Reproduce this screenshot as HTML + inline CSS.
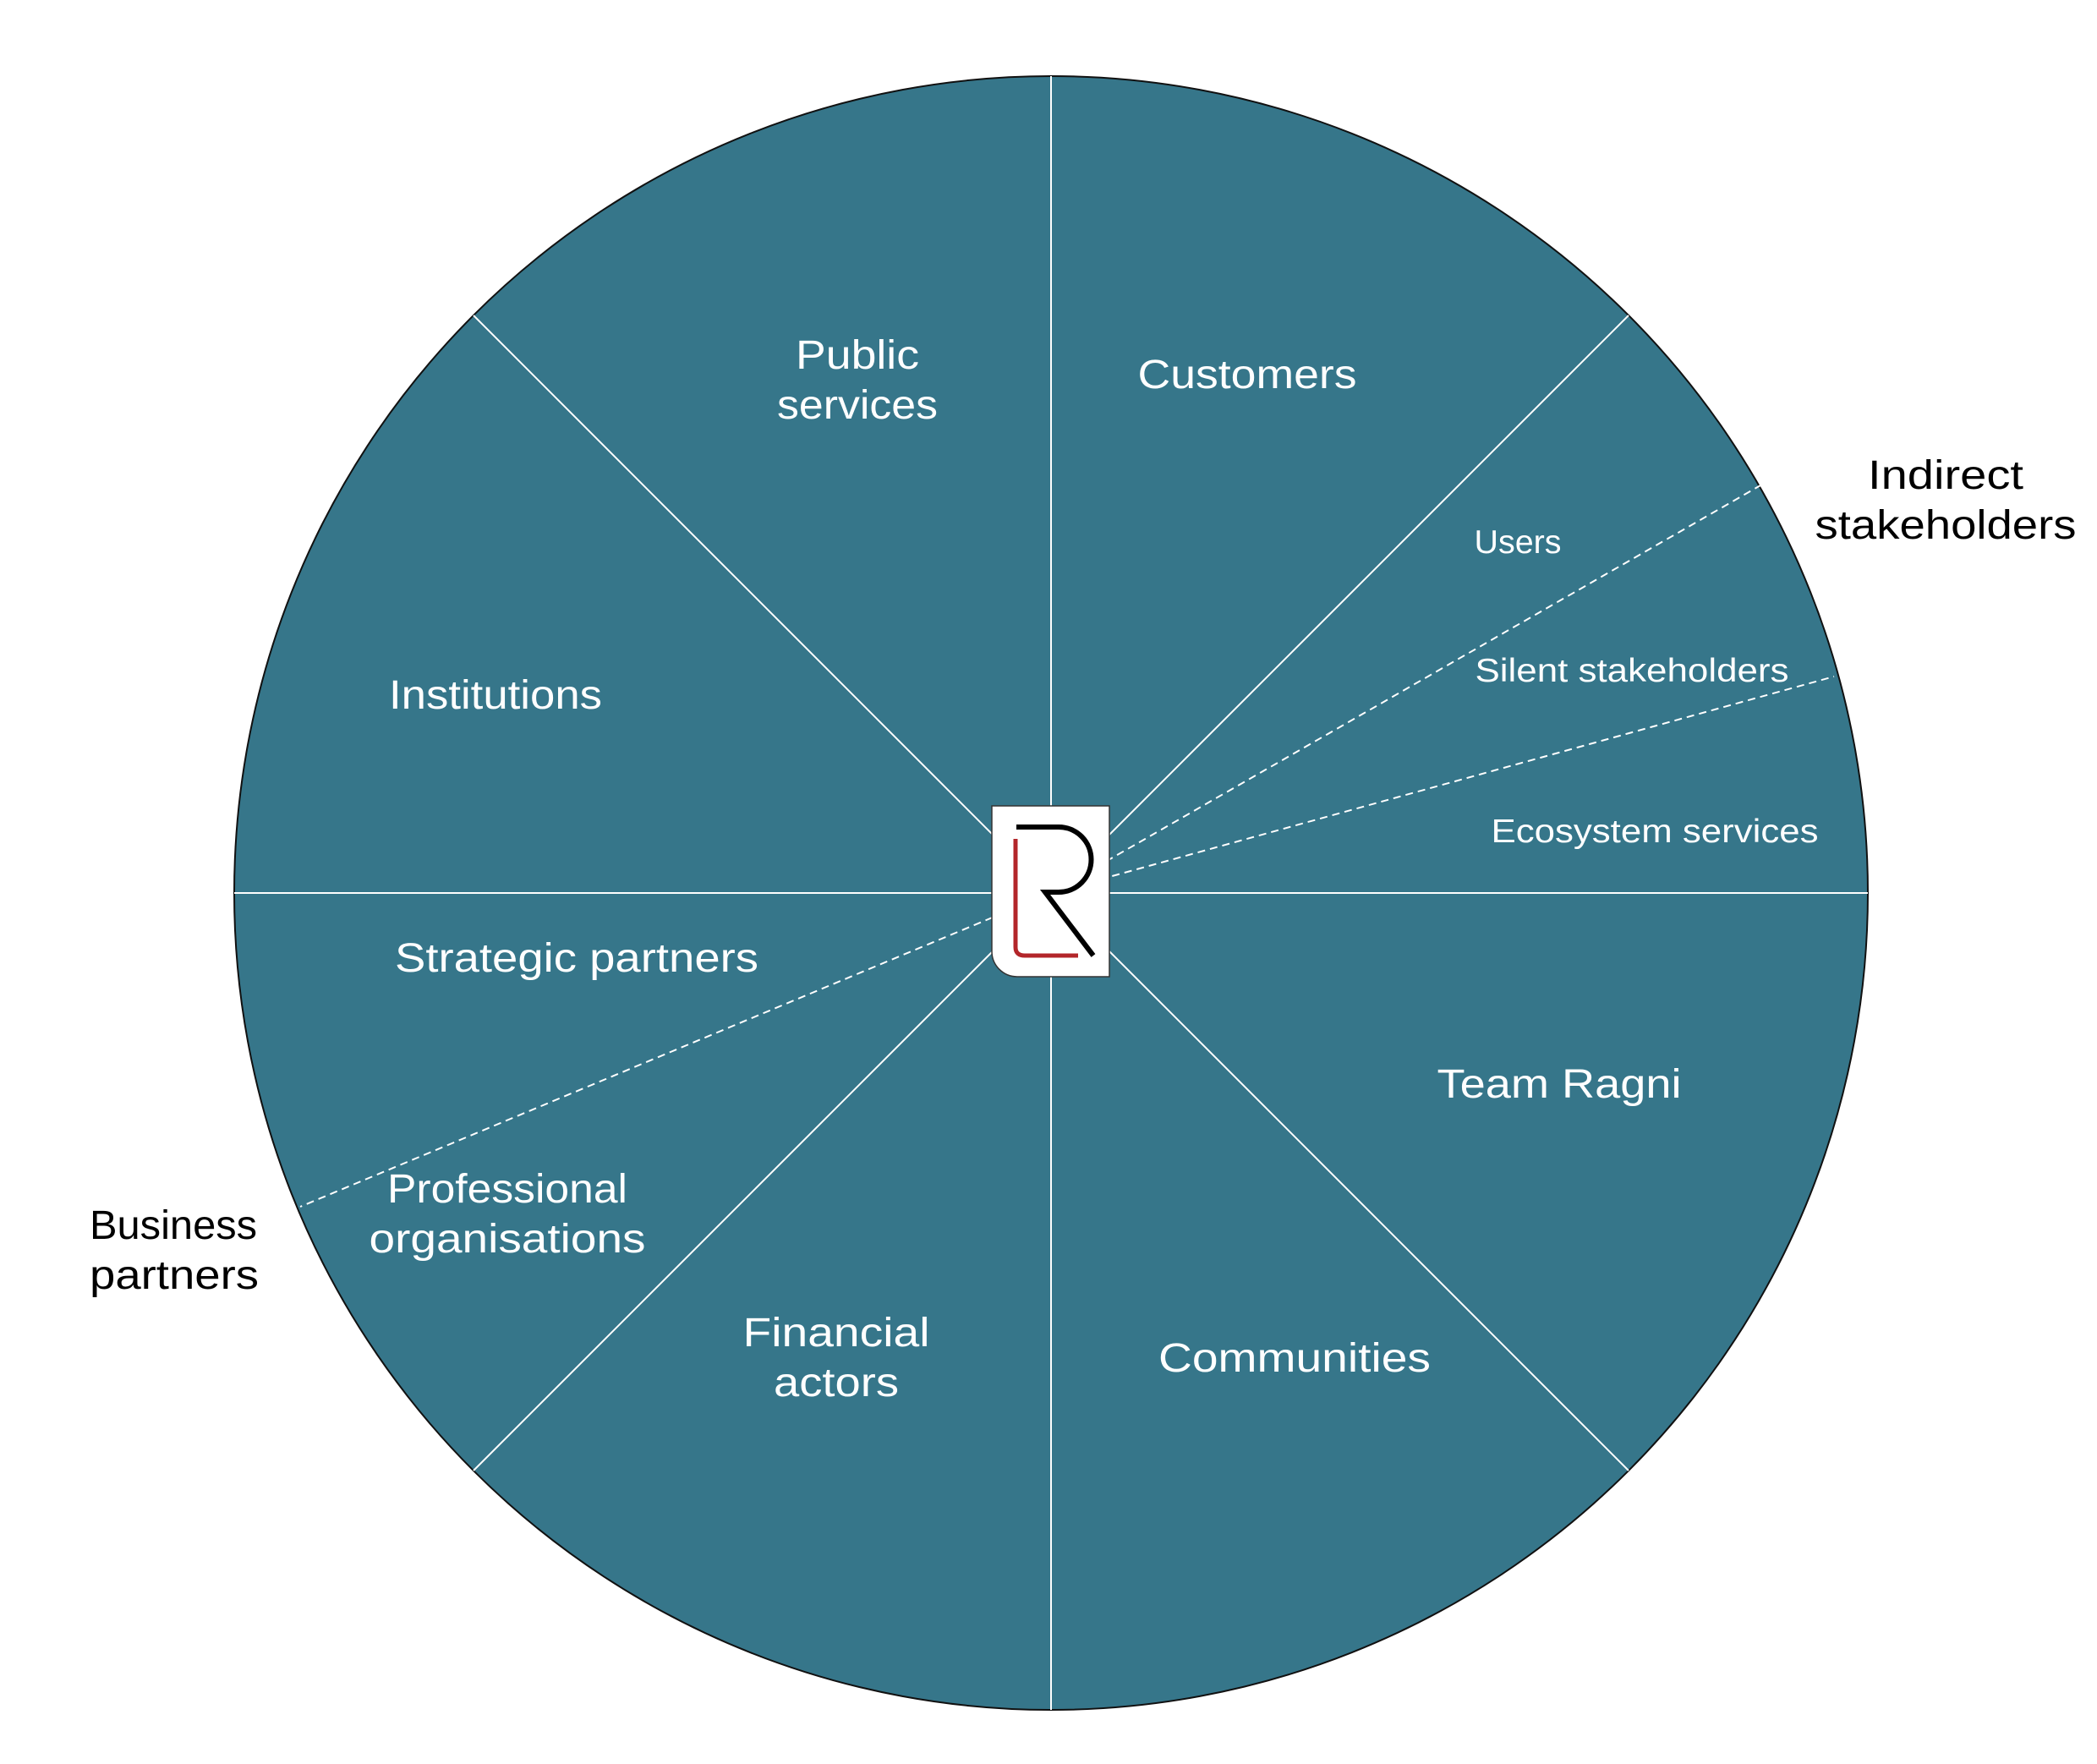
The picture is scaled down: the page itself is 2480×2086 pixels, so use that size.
<!DOCTYPE html>
<html><head><meta charset="utf-8"><style>
html,body{margin:0;padding:0;background:#fff;}
svg{display:block;}
text{font-family:"Liberation Sans",sans-serif;}
</style></head><body>
<svg width="2480" height="2086" viewBox="0 0 2480 2086" xmlns="http://www.w3.org/2000/svg">
<circle cx="1243" cy="1056" r="966" fill="#36768a" stroke="#111" stroke-width="2"/>
<g stroke="#fff" stroke-width="2">
<line x1="1243" y1="90" x2="1243" y2="2022"/>
<line x1="277" y1="1056" x2="2209" y2="1056"/>
<line x1="1243" y1="1056" x2="560" y2="373"/>
<line x1="1243" y1="1056" x2="1926" y2="373"/>
<line x1="1243" y1="1056" x2="560" y2="1739"/>
<line x1="1243" y1="1056" x2="1926" y2="1739"/>
</g>
<g stroke="#fff" stroke-width="2" stroke-dasharray="9,6">
<line x1="1243" y1="1056" x2="2082" y2="574"/>
<line x1="1243" y1="1056" x2="2169" y2="800"/>
<line x1="1243" y1="1056" x2="355" y2="1427"/>
</g>
<path d="M1173,953 H1312 V1155 H1203 A30,30 0 0 1 1173,1125 Z" fill="#fff" stroke="#333" stroke-width="1.5"/>
<path d="M1201,992 V1120 Q1201,1130 1212,1130 H1275" fill="none" stroke="#b3262a" stroke-width="5"/>
<path d="M1202,978 H1252 A31,31 0 0 1 1252,1055 H1236 L1293,1130" fill="none" stroke="#000" stroke-width="6"/>
<g fill="#fff" text-anchor="middle" font-size="48" lengthAdjust="spacingAndGlyphs">
<text x="1014" y="436" textLength="146" lengthAdjust="spacingAndGlyphs">Public</text>
<text x="1014" y="495" textLength="190" lengthAdjust="spacingAndGlyphs">services</text>
<text x="1475" y="459" textLength="259" lengthAdjust="spacingAndGlyphs">Customers</text>
<text x="586" y="838" textLength="252" lengthAdjust="spacingAndGlyphs">Institutions</text>
<text x="682" y="1149" textLength="430" lengthAdjust="spacingAndGlyphs">Strategic partners</text>
<text x="600" y="1422" textLength="284" lengthAdjust="spacingAndGlyphs">Professional</text>
<text x="600" y="1481" textLength="327" lengthAdjust="spacingAndGlyphs">organisations</text>
<text x="989" y="1592" textLength="221" lengthAdjust="spacingAndGlyphs">Financial</text>
<text x="989" y="1651" textLength="148" lengthAdjust="spacingAndGlyphs">actors</text>
<text x="1531" y="1622" textLength="322" lengthAdjust="spacingAndGlyphs">Communities</text>
<text x="1844" y="1298" textLength="289" lengthAdjust="spacingAndGlyphs">Team Ragni</text>
</g>
<g fill="#fff" text-anchor="middle" font-size="39">
<text x="1795" y="654" textLength="103" lengthAdjust="spacingAndGlyphs">Users</text>
<text x="1930" y="806" textLength="371" lengthAdjust="spacingAndGlyphs">Silent stakeholders</text>
<text x="1957" y="996" textLength="387" lengthAdjust="spacingAndGlyphs">Ecosystem services</text>
</g>
<g fill="#000" font-size="48">
<text x="2301" y="578" text-anchor="middle" textLength="184" lengthAdjust="spacingAndGlyphs">Indirect</text>
<text x="2301" y="637" text-anchor="middle" textLength="309" lengthAdjust="spacingAndGlyphs">stakeholders</text>
<text x="106" y="1465" textLength="198" lengthAdjust="spacingAndGlyphs">Business</text>
<text x="106" y="1524" textLength="200" lengthAdjust="spacingAndGlyphs">partners</text>
</g>
</svg>
</body></html>
